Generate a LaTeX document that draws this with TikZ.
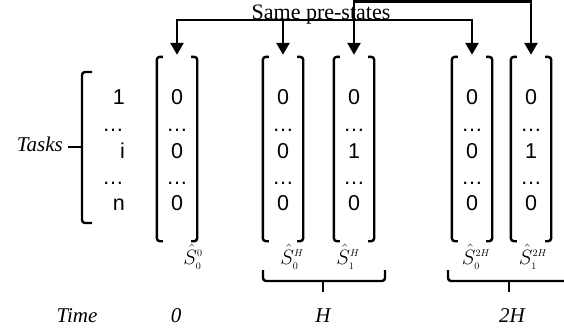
\documentclass[tikz,border=0pt]{standalone}
\usepackage{fontspec}
\setmainfont{Liberation Serif}
\newfontfamily\arialf{Liberation Sans}
\usetikzlibrary{arrows.meta}
\begin{document}
\begin{tikzpicture}[x=1pt,y=-1pt,
  vec/.style={minimum width=40pt,minimum height=184pt,inner sep=0pt,draw=none},
  brk/.style={line width=2.4pt,rounded corners=3pt},
  conn/.style={line width=2.6pt,{Triangle[width=13pt,length=12pt]}-{Triangle[width=13pt,length=12pt]},shorten <=2pt,shorten >=2pt},
  conn1/.style={line width=2.6pt,-{Triangle[width=13pt,length=12pt]},shorten >=2pt},
  digit/.style={font=\arialf\fontsize{21.5}{21.5}\selectfont,anchor=base,inner sep=0pt},
  tasklab/.style={font=\arialf\fontsize{21.5}{21.5}\selectfont,anchor=base east,inner sep=0pt},
  lab/.style={font=\itshape\fontsize{21}{21}\selectfont,anchor=base,inner sep=0pt},
  title/.style={font=\fontsize{22}{22}\selectfont,anchor=base,inner sep=0pt},
  shat/.style={font=\fontsize{20}{20}\selectfont,anchor=base,inner sep=0pt}]
\useasboundingbox (0,0) rectangle (564,333);

% vectors
\node[vec] (v0) at (177,149) {};
\node[vec] (v1) at (283,149) {};
\node[vec] (v2) at (354,149) {};
\node[vec] (v3) at (472,149) {};
\node[vec] (v4) at (531,149) {};

\foreach \v in {v0,v1,v2,v3,v4}{
  \draw[brk] ([xshift=6pt]\v.north west) -- (\v.north west) -- (\v.south west) -- ([xshift=6pt]\v.south west);
  \draw[brk] ([xshift=-6pt]\v.north east) -- (\v.north east) -- (\v.south east) -- ([xshift=-6pt]\v.south east);
}

% vector contents
\foreach \v/\m in {v0/0,v1/0,v2/1,v3/0,v4/1}{
  \node[digit] (\v a) at (\v.north |- 0,104.5) {0};
  \node[digit] (\v b) at (\v.north |- 0,131) {…};
  \node[digit] (\v c) at (\v.north |- 0,158) {\m};
  \node[digit] (\v d) at (\v.north |- 0,184) {…};
  \node[digit] (\v e) at (\v.north |- 0,210.5) {0};
}

% task labels
\node[tasklab] (t1) at (125,104.5) {1};
\node[tasklab] (t2) at (124,131) {…};
\node[tasklab] (t3) at (125,158) {i};
\node[tasklab] (t4) at (124,184) {…};
\node[tasklab] (t5) at (125,210.5) {n};
\draw[brk] (92,72) -- (82,72) -- (82,223) -- (92,223);
\draw[line width=2.6pt] (82,147) -- (68,147);
\node[lab,anchor=base east] (tasks) at (63,151) {Tasks};

% title and connectors
\node[title] (same) at (321,19) {Same pre-states};
\coordinate (a1) at (v0.north |- 0,20);
\coordinate (a3) at (v3.north |- 0,20);
\coordinate (a2) at (v2.north |- 0,1.5);
\coordinate (a4) at (v4.north |- 0,1.5);
\draw[conn] (v0.north) -- (a1) -- (a3) -- (v3.north);
\draw[conn1] (v1.north |- a1) -- (v1.north);
\draw[conn] (v2.north) -- (a2) -- (a4) -- (v4.north);

% state labels
\node[shat] (s00) at (193,264) {$\hat{S}^{\scriptscriptstyle 0}_{\scriptscriptstyle 0}$};
\node[shat] (s0h) at (292,264) {$\hat{S}^{\scriptscriptstyle H}_{\scriptscriptstyle 0}$};
\node[shat] (s1h) at (348,264) {$\hat{S}^{\scriptscriptstyle H}_{\scriptscriptstyle 1}$};
\node[shat] (s02h) at (476,264) {$\hat{S}^{\scriptscriptstyle 2H}_{\scriptscriptstyle 0}$};
\node[shat] (s12h) at (533,264) {$\hat{S}^{\scriptscriptstyle 2H}_{\scriptscriptstyle 1}$};

% bottom braces
\draw[brk] (263,270) -- (263,281) -- (385,281) -- (385,270);
\draw[line width=2.6pt] (323,281) -- (323,292);
\draw[brk] (448,270) -- (448,281) -- (575,281);
\draw[line width=2.6pt] (509,281) -- (509,292);

% time labels
\node[lab] (time) at (77,322) {Time};
\node[lab] (t0) at (176,322) {0};
\node[lab] (tH) at (323,322) {H};
\node[lab] (t2H) at (512,322) {2H};
\end{tikzpicture}
\end{document}
